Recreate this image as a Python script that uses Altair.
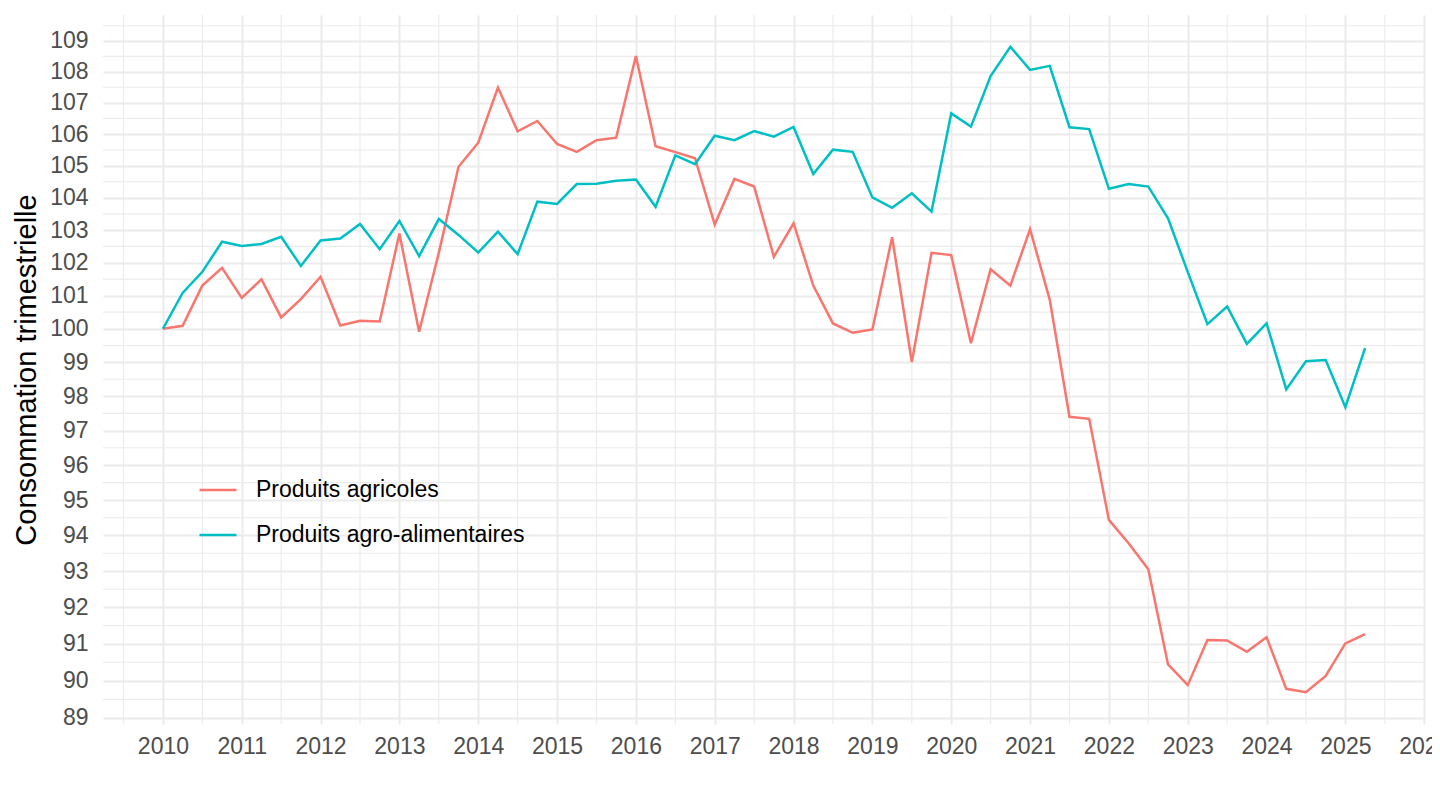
import math
import altair as alt
import pandas as pd

# ---- data (quarterly, 2010Q1 .. 2025Q2) ----
series_names = ["Produits agricoles", "Produits agro-alimentaires"]
series_colors = ["#F8766D", "#00BFC4"]

agricoles = [
    100.00, 100.09, 101.30, 101.84, 100.93, 101.49, 100.34, 100.89,
    101.57, 100.10, 100.24, 100.22, 102.89, 99.91, 102.30, 104.97,
    105.73, 107.49, 106.09, 106.42, 105.69, 105.44, 105.81, 105.89,
    108.51, 105.62, 105.43, 105.24, 103.17, 104.59, 104.35, 102.18,
    103.21, 101.30, 100.16, 99.88, 99.98, 102.78, 99.01, 102.30,
    102.23, 99.57, 101.80, 101.30, 103.03, 100.87, 97.40, 97.34,
    94.44, 93.78, 93.05, 90.44, 89.88, 91.10, 91.09, 90.78,
    91.18, 89.78, 89.69, 90.13, 91.01, 91.26,
]
agro_alimentaires = [
    100.00, 101.08, 101.72, 102.64, 102.51, 102.57, 102.79, 101.90,
    102.68, 102.74, 103.19, 102.41, 103.28, 102.20, 103.34, 102.85,
    102.31, 102.95, 102.26, 103.88, 103.81, 104.43, 104.44, 104.53,
    104.57, 103.72, 105.33, 105.05, 105.95, 105.81, 106.10, 105.92,
    106.23, 104.74, 105.51, 105.44, 104.01, 103.69, 104.14, 103.57,
    106.66, 106.24, 107.86, 108.81, 108.06, 108.19, 106.22, 106.16,
    104.28, 104.43, 104.35, 103.36, 101.72, 100.14, 100.67, 99.55,
    100.16, 98.20, 99.03, 99.07, 97.68, 99.42,
]
first_year = 2010
quarters = [first_year + i / 4 for i in range(len(agricoles))]

x_ticks = list(range(2010, 2027))
y_ticks = list(range(89, 110))

# minor grid (ggplot style: midpoints between majors in transformed space)
x_minor = [t - 0.5 for t in x_ticks]
y_minor = [math.sqrt(a * b) for a, b in zip(y_ticks[:-1], y_ticks[1:])] + [math.sqrt(109 * 110)]

rows = []
for name, vals in zip(series_names, [agricoles, agro_alimentaires]):
    for q, v in zip(quarters, vals):
        rows.append({"date": q, "valeur": v, "serie": name})
df = pd.DataFrame(rows)

x_scale = alt.Scale(domain=[2009.24, 2026.01], nice=False, zero=False)
y_scale = alt.Scale(type="log", domain=[88.84, 109.85], nice=False, zero=False)

FONT = "Liberation Sans"
GRID = "#EBEBEB"

xminor_layer = alt.Chart(pd.DataFrame({"m": x_minor})).mark_rule(
    color=GRID, strokeWidth=1.1
).encode(x=alt.X("m:Q", scale=x_scale))

yminor_layer = alt.Chart(pd.DataFrame({"m": y_minor})).mark_rule(
    color=GRID, strokeWidth=1.1
).encode(y=alt.Y("m:Q", scale=y_scale))

lines = alt.Chart(df).mark_line(strokeWidth=2.5).encode(
    x=alt.X(
        "date:Q",
        scale=x_scale,
        axis=alt.Axis(
            title=None,
            values=x_ticks,
            format="d",
            labelFontSize=23,
            labelColor="#4D4D4D",
            labelFont=FONT,
            labelPadding=11,
            labelOverlap=False,
            labelFlush=False,
            grid=True,
            gridColor=GRID,
            gridWidth=2,
            domain=False,
            ticks=False,
        ),
    ),
    y=alt.Y(
        "valeur:Q",
        scale=y_scale,
        axis=alt.Axis(
            title="Consommation trimestrielle",
            values=y_ticks,
            format="d",
            labelFontSize=23,
            labelColor="#4D4D4D",
            labelFont=FONT,
            labelPadding=15,
            labelOverlap=False,
            titleFontSize=29,
            titleFont=FONT,
            titleFontWeight="normal",
            titleColor="black",
            titlePadding=8,
            grid=True,
            gridColor=GRID,
            gridWidth=2,
            domain=False,
            ticks=False,
        ),
    ),
    color=alt.Color(
        "serie:N",
        scale=alt.Scale(domain=series_names, range=series_colors),
        legend=alt.Legend(
            title=None,
            orient="none",
            legendX=95,
            legendY=455,
            labelFontSize=23,
            labelFont=FONT,
            labelColor="black",
            labelLimit=0,
            symbolType="stroke",
            symbolSize=1369,
            symbolStrokeWidth=2.5,
            labelOffset=18,
            rowPadding=13,
            padding=0,
        ),
    ),
)

chart = alt.layer(xminor_layer, yminor_layer, lines).properties(
    width=1322,
    height=709,
    autosize=alt.AutoSizeParams(type="none"),
    padding={"left": 95, "top": 7, "right": 7, "bottom": 60},
    background="white",
).configure_view(stroke=None)

chart.save("out.html", embed_options={"renderer": "svg", "actions": False})
